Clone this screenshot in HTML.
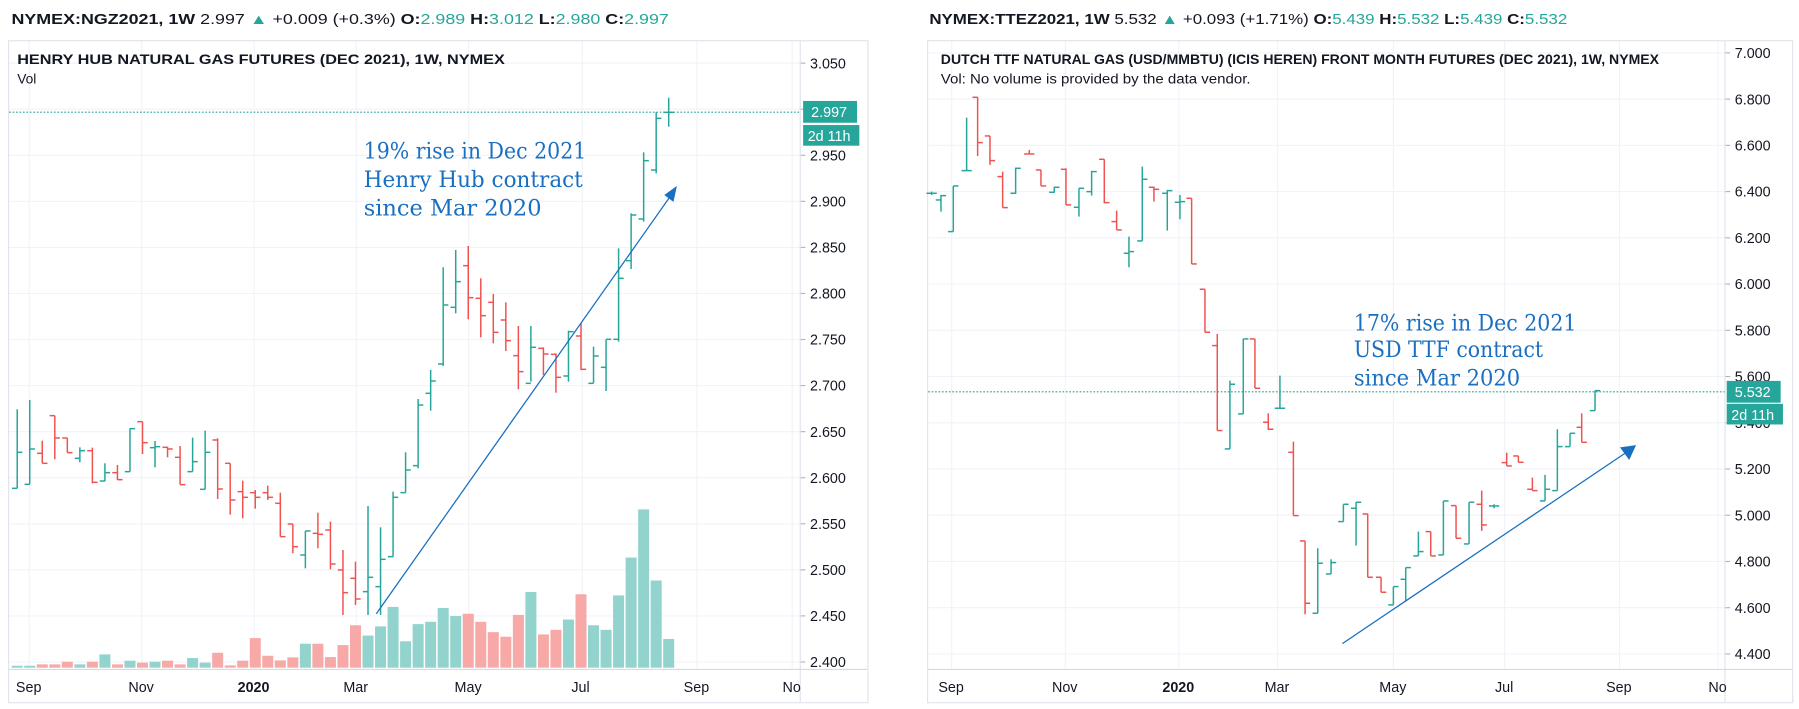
<!DOCTYPE html>
<html><head><meta charset="utf-8"><style>
html,body{margin:0;padding:0;background:#fff;}
svg{display:block;}
.t{font-family:"Liberation Sans",sans-serif;}
</style></head><body>
<svg id="s" width="1799" height="709" viewBox="0 0 1568 618" preserveAspectRatio="none" xmlns="http://www.w3.org/2000/svg">
<rect width="1568" height="618" fill="#fff"/>
<g id="grid"></g>
<!-- panels -->
<rect x="7.5" y="35.5" width="749" height="577" fill="none" stroke="#e0e3eb"/>
<rect x="808.5" y="35.5" width="754" height="577" fill="none" stroke="#e0e3eb"/>
<line x1="697.5" y1="36" x2="697.5" y2="612" stroke="#e0e3eb"/>
<line x1="1503.5" y1="36" x2="1503.5" y2="612" stroke="#e0e3eb"/>
<line x1="8" y1="583.5" x2="756" y2="583.5" stroke="#d6d9e0"/>
<line x1="809" y1="583.5" x2="1562" y2="583.5" stroke="#d6d9e0"/>
<g id="vol"></g>
<g id="bars"></g>
<!-- dotted price lines -->
<line x1="8" y1="97.8" x2="697" y2="97.8" stroke="#26a69a" stroke-dasharray="1.5,1.5" stroke-width="1"/>
<line x1="809" y1="341.5" x2="1503" y2="341.5" stroke="#26a69a" stroke-dasharray="1.5,1.5" stroke-width="1"/>
<!-- headers -->
<g class="t" font-size="12.5" fill="#131722">
<text x="10" y="21" textLength="573" lengthAdjust="spacingAndGlyphs"><tspan font-weight="bold">NYMEX:NGZ2021, 1W</tspan> <tspan fill="#131722">2.997</tspan> <tspan fill="#26a69a">▲</tspan> +0.009 (+0.3%) <tspan font-weight="bold">O:</tspan><tspan fill="#26a69a">2.989</tspan> <tspan font-weight="bold">H:</tspan><tspan fill="#26a69a">3.012</tspan> <tspan font-weight="bold">L:</tspan><tspan fill="#26a69a">2.980</tspan> <tspan font-weight="bold">C:</tspan><tspan fill="#26a69a">2.997</tspan></text>
<text x="810" y="21" textLength="556" lengthAdjust="spacingAndGlyphs"><tspan font-weight="bold">NYMEX:TTEZ2021, 1W</tspan> 5.532 <tspan fill="#26a69a">▲</tspan> +0.093 (+1.71%) <tspan font-weight="bold">O:</tspan><tspan fill="#26a69a">5.439</tspan> <tspan font-weight="bold">H:</tspan><tspan fill="#26a69a">5.532</tspan> <tspan font-weight="bold">L:</tspan><tspan fill="#26a69a">5.439</tspan> <tspan font-weight="bold">C:</tspan><tspan fill="#26a69a">5.532</tspan></text>
<text x="15" y="56" font-size="12" font-weight="bold" textLength="425" lengthAdjust="spacingAndGlyphs">HENRY HUB NATURAL GAS FUTURES (DEC 2021), 1W, NYMEX</text>
<text x="15" y="73" font-size="12">Vol</text>
<text x="820" y="56" font-size="12" font-weight="bold" textLength="626" lengthAdjust="spacingAndGlyphs">DUTCH TTF NATURAL GAS (USD/MMBTU) (ICIS HEREN) FRONT MONTH FUTURES (DEC 2021), 1W, NYMEX</text>
<text x="820" y="73" font-size="12" textLength="270" lengthAdjust="spacingAndGlyphs">Vol: No volume is provided by the data vendor.</text>
</g>
<g id="plabels" class="t" font-size="12.5" fill="#131722"></g>
<g class="t" font-size="12.5" fill="#131722" text-anchor="middle">
<text x="25" y="603">Sep</text><text x="123" y="603">Nov</text><text x="221" y="603" font-weight="bold">2020</text><text x="310" y="603">Mar</text><text x="408" y="603">May</text><text x="506" y="603">Jul</text><text x="607" y="603">Sep</text><text x="690" y="603">No</text>
<text x="829" y="603">Sep</text><text x="928" y="603">Nov</text><text x="1027" y="603" font-weight="bold">2020</text><text x="1113" y="603">Mar</text><text x="1214" y="603">May</text><text x="1311" y="603">Jul</text><text x="1411" y="603">Sep</text><text x="1497" y="603">No</text>
</g>
<!-- price badges -->
<rect x="700" y="88" width="47" height="19" fill="#26a69a"/>
<rect x="700" y="109" width="49" height="18" fill="#26a69a"/>
<rect x="1505" y="332" width="47" height="19" fill="#26a69a"/>
<rect x="1505" y="352" width="49" height="18" fill="#26a69a"/>
<g class="t" font-size="12.5" fill="#fff">
<text x="707" y="102">2.997</text><text x="704" y="123">2d 11h</text>
<text x="1512" y="346">5.532</text><text x="1509" y="366">2d 11h</text>
</g>
<!-- annotations -->
<g font-family="'DejaVu Serif','Liberation Serif',serif" font-size="19.5" fill="#1a6fc1">
<text x="317" y="138" textLength="194" lengthAdjust="spacingAndGlyphs">19% rise in Dec 2021</text>
<text x="317" y="163" textLength="191" lengthAdjust="spacingAndGlyphs">Henry Hub contract</text>
<text x="317" y="188" textLength="155" lengthAdjust="spacingAndGlyphs">since Mar 2020</text>
<text x="1180" y="288" textLength="194" lengthAdjust="spacingAndGlyphs">17% rise in Dec 2021</text>
<text x="1180" y="311" textLength="165" lengthAdjust="spacingAndGlyphs">USD TTF contract</text>
<text x="1180" y="336" textLength="145" lengthAdjust="spacingAndGlyphs">since Mar 2020</text>
</g>
<line x1="328" y1="535" x2="585" y2="170" stroke="#1a6fc1" stroke-width="1.1"/>
<polygon points="590,162 579,170 587,176" fill="#1a6fc1"/>
<line x1="1170" y1="561" x2="1418" y2="394" stroke="#1a6fc1" stroke-width="1.1"/>
<polygon points="1426,388 1412,390 1420,401" fill="#1a6fc1"/>
</svg>
<script>
var NS="http://www.w3.org/2000/svg";
function el(p,n,a){var e=document.createElementNS(NS,n);for(var k in a)e.setAttribute(k,a[k]);document.getElementById(p).appendChild(e);return e;}
var G="#26a69a",R="#ef5350";
// grid
var lx=[25,123,221,310,408,507,607,690], rx=[829,928,1027,1113,1214,1311,1411,1497];
lx.forEach(function(x){el("grid","line",{x1:x+.5,y1:36,x2:x+.5,y2:583,stroke:"#f0f3fa"});});
rx.forEach(function(x){el("grid","line",{x1:x+.5,y1:36,x2:x+.5,y2:583,stroke:"#f0f3fa"});});
for(var i=0;i<14;i++){var p=2.4+i*0.05,y=577-i*40.15;
 el("grid","line",{x1:8,y1:y,x2:697,y2:y,stroke:"#f0f3fa"});
 el("grid","line",{x1:697,y1:y,x2:702,y2:y,stroke:"#b2b5be"});
 if(Math.abs(p-3.0)>0.01){var t=el("plabels","text",{x:706,y:y+4.5});t.textContent=p.toFixed(3);}
}
for(var i=0;i<14;i++){var p=4.4+i*0.2,y=570-i*40.3;
 el("grid","line",{x1:809,y1:y,x2:1503,y2:y,stroke:"#f0f3fa"});
 el("grid","line",{x1:1503,y1:y,x2:1508,y2:y,stroke:"#b2b5be"});
 var t=el("plabels","text",{x:1512,y:y+4.5});t.textContent=p.toFixed(3);
}
function bar(x,h,l,o,c,col){
 el("bars","line",{x1:x,y1:h,x2:x,y2:l,stroke:col,"stroke-width":1.3});
 el("bars","line",{x1:x-4.5,y1:o,x2:x,y2:o,stroke:col,"stroke-width":1.3});
 el("bars","line",{x1:x,y1:c,x2:x+4.5,y2:c,stroke:col,"stroke-width":1.3});
}
var L1=[[568,805,805,697],[540,793,793,687],[662,730,700,730],[587,718,587,654],[654,698,654,698],[682,727,715,692],[683,790,692,787],[730,784,783,758],[735,780,758,779],[625,755,755,626],[605,702,605,668],[663,742,683,680],[680,712,682,687],[678,794,712,794],[653,755,755,725],[632,808,808,697],[655,837,660,807],[730,884,730,840],[782,895,815,832],[810,866,818,832],[797,840,818,832],[818,950,850,950],[912,1000,912,980],[933,1045,1005,933],[878,985,940,943],[905,1048,930,1032],[990,1185,1050,1118],[1025,1155,1075,1137],[858,1185,1115,1072],[922,1185,1100,1018],[815,1010,1010,832],[697,818,818,750],[537,745,737,555]];
var L2=[[930,1052,1000,963],[622,918,912,735],[570,760,742,665],[558,778,617,713],[655,832,715,767],[702,850,727,817],[727,873,780,842],[798,988,887,935],[798,965,970,862],[862,945,865,882],[880,998,883,952],[812,965,948,815],[790,930,828,928],[860,970,970,888],[838,993,922,838],[565,845,838,655],[460,627,602,465],[277,485,477,302],[157,340,330,175],[113,200,157,157]];
var LB=[];
L1.forEach(function(b){LB.push(b.map(function(z){return 191.76+z*0.29054;}));});
L2.forEach(function(b){LB.push(b.map(function(z){return 52.3+z*0.29054;}));});
var cols=[];
LB.forEach(function(b,i){var col=(b[3]<=b[2])?G:R; if(i==52)col=G; cols.push(col);});
var vh=[1.7,1.7,2.9,2.9,5.2,2.9,5.2,11.6,2.9,6.1,4.4,5.2,6.1,2.9,8.4,4.4,13,2,6.1,25.8,10.4,6.4,9,20.9,20.9,9.3,19.7,37,28,36,53,23,38,40,52,45,47,40,31,27,46,66,29,33,42,64,37,33,63,96,138,76,25];
vh.forEach(function(h,i){var x=15+10.92*i;el("vol","rect",{x:x-4.8,y:582-h,width:9.6,height:h,fill:cols[i]==G?"#92d3cd":"#f7a9a8"});});
LB.forEach(function(b,i){bar(15+10.92*i,b[0],b[1],b[2],b[3],cols[i]);});
// right
var R1=[[20,335,345,340,340,"g"],[48,345,395,360,347,"g"],[85,318,455,455,318,"g"],[125,113,272,272,272,"g"],[158,52,228,52,188,"r"],[195,168,255,168,242,"r"],[233,275,383,290,383,"r"],[272,263,342,340,265,"g"],[313,210,222,222,222,"r"],[348,270,318,270,318,"r"],[388,320,338,337,322,"g"],[423,265,375,268,375,"r"],[462,325,410,382,325,"g"],[500,273,347,335,275,"g"],[538,238,370,238,368,"r"],[575,392,450,425,450,"r"],[612,470,562,520,515,"g"],[652,260,483,483,298,"g"],[687,320,365,322,328,"r"],[727,330,452,340,332,"g"],[765,345,418,367,365,"g"],[800,355,552,355,552,"r"],[840,628,757,628,757,"r"],[877,762,1052,797,1052,"r"],[915,902,1107,1107,913,"g"],[955,777,1002,1002,777,"g"],[990,777,925,777,925,"r"],[1030,1000,1050,1027,1048,"r"],[1065,887,985,985,985,"g"]];
R1.forEach(function(b){bar(806.2+b[0]*0.2905,69.7+b[1]*0.2905,69.7+b[2]*0.2905,69.7+b[3]*0.2905,69.7+b[4]*0.2905,b[5]=="g"?G:R);});
var R2=[[40,365,587,397,587,"r"],[75,663,883,663,850,"r"],[113,685,880,880,730,"g"],[153,718,762,762,728,"g"],[190,553,605,605,553,"g"],[228,547,677,565,547,"g"],[263,582,772,582,772,"r"],[303,772,817,772,817,"r"],[340,800,855,855,800,"g"],[377,743,845,778,743,"g"],[415,635,708,708,695,"g"],[452,635,708,635,708,"r"],[490,543,705,705,543,"g"],[528,557,655,557,655,"r"],[567,547,672,672,547,"g"],[605,512,633,553,615,"r"],[642,553,565,558,558,"g"],[680,398,438,428,438,"r"],[715,408,427,408,427,"r"],[757,473,512,508,512,"r"],[795,465,543,543,508,"g"],[832,328,512,512,380,"g"],[870,340,380,380,340,"g"],[905,280,367,322,367,"r"],[945,212,272,272,212,"g"]];
R2.forEach(function(b){bar(1115.7+b[0]*0.2905,278.9+b[1]*0.2905,278.9+b[2]*0.2905,278.9+b[3]*0.2905,278.9+b[4]*0.2905,b[5]=="g"?G:R);});
</script>
</body></html>
